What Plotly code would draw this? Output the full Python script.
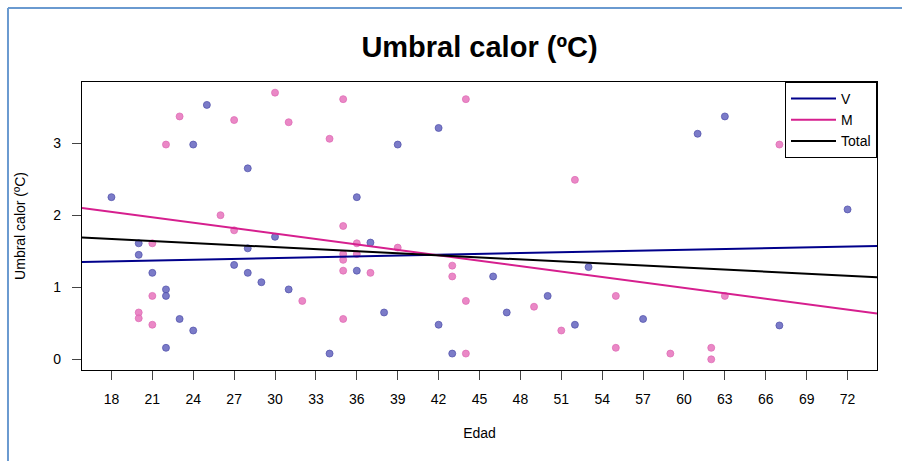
import plotly.graph_objects as go

# ---- data ----
v_edad = [18, 20, 20, 21, 22, 22, 22, 23, 24, 24, 25, 27, 28, 28, 28, 29, 30, 31,
          34, 36, 36, 37, 38, 39, 42, 42, 43, 46, 47, 50, 52, 53, 57, 61, 63, 67, 72]
v_umbral = [2.25, 1.61, 1.45, 1.20, 0.97, 0.88, 0.16, 0.56, 2.98, 0.40, 3.53, 1.31,
            2.65, 1.54, 1.20, 1.07, 1.70, 0.97, 0.08, 2.25, 1.23, 1.62, 0.65, 2.98,
            3.21, 0.48, 0.08, 1.15, 0.65, 0.88, 0.48, 1.28, 0.56, 3.13, 3.37, 0.47, 2.08]

m_edad = [20, 20, 21, 21, 21, 22, 23, 26, 27, 27, 30, 31, 32, 34, 35, 35, 35, 35, 35,
          35, 36, 36, 37, 39, 43, 43, 44, 44, 44, 49, 51, 52, 55, 55, 59, 62, 62, 63, 67]
m_umbral = [0.65, 0.57, 1.61, 0.88, 0.48, 2.98, 3.37, 2.00, 3.32, 1.79, 3.70, 3.29,
            0.81, 3.06, 3.61, 1.85, 1.46, 1.38, 1.23, 0.56, 1.61, 1.46, 1.20, 1.55,
            1.30, 1.15, 3.61, 0.81, 0.08, 0.73, 0.40, 2.49, 0.88, 0.16, 0.08, 0.16,
            0.00, 0.88, 2.98]

# regression lines (values at the left / right edges of the plot region)
line_edad = [15.84, 74.16]
v_line = [1.351, 1.574]
m_line = [2.10, 0.635]
total_line = [1.69, 1.139]

x_ticks = list(range(18, 73, 3))
y_ticks = [0, 1, 2, 3]

FONT = "Liberation Sans, Arial, sans-serif"

fig = go.Figure()

fig.add_trace(go.Scatter(x=v_edad, y=v_umbral, mode="markers", showlegend=False,
                         marker=dict(size=7, color="rgba(100,100,190,0.85)",
                                     line=dict(width=0.8, color="rgba(80,80,170,0.9)")),
                         hoverinfo="x+y"))
fig.add_trace(go.Scatter(x=m_edad, y=m_umbral, mode="markers", showlegend=False,
                         marker=dict(size=7, color="rgba(230,115,188,0.85)",
                                     line=dict(width=0.8, color="rgba(222,105,180,0.9)")),
                         hoverinfo="x+y"))

fig.add_trace(go.Scatter(x=line_edad, y=v_line, mode="lines", name="V",
                         line=dict(color="#00008B", width=2)))
fig.add_trace(go.Scatter(x=line_edad, y=m_line, mode="lines", name="M",
                         line=dict(color="#D61F8E", width=2)))
fig.add_trace(go.Scatter(x=line_edad, y=total_line, mode="lines", name="Total",
                         line=dict(color="#000000", width=2)))

# outer frame of the screenshot (blue lines at top and left)
frame_col = "#6A9AD0"
fig.add_shape(type="line", xref="paper", yref="paper", x0=-0.0931, x1=1.05,
              y0=1.2569, y1=1.2569, line=dict(color=frame_col, width=2))
fig.add_shape(type="line", xref="paper", yref="paper", x0=-0.0931, x1=-0.0931,
              y0=1.2569, y1=-0.35, line=dict(color=frame_col, width=2))

fig.update_layout(
    width=902, height=461,
    margin=dict(l=82, r=25, t=82, b=91),
    paper_bgcolor="white", plot_bgcolor="white",
    font=dict(family=FONT, size=14, color="#000000"),
    title=dict(text="<b>Umbral calor (ºC)</b>", x=0.5, xref="paper", xanchor="center",
               y=0.898, yref="container", yanchor="middle",
               font=dict(size=29, family=FONT, color="#000000")),
    xaxis=dict(range=[15.84, 74.16], tickvals=x_ticks, ticktext=[str(t) for t in x_ticks],
               ticks="outside", ticklen=9, tickcolor="#444", showgrid=False, zeroline=False,
               showline=True, linecolor="#000", linewidth=1.2, mirror=True,
               ticklabelstandoff=7, tickfont=dict(size=14),
               title=dict(text="Edad", font=dict(size=14), standoff=22)),
    yaxis=dict(range=[-0.148, 3.848], tickvals=y_ticks, ticktext=[str(t) for t in y_ticks],
               ticks="outside", ticklen=9, tickcolor="#444", showgrid=False, zeroline=False,
               showline=True, linecolor="#000", linewidth=1.2, mirror=True,
               ticklabelstandoff=8, tickfont=dict(size=14),
               title=dict(text="Umbral calor (ºC)", font=dict(size=14), standoff=24)),
    legend=dict(x=1, y=1, xanchor="right", yanchor="top", bgcolor="white",
                bordercolor="#000", borderwidth=1, font=dict(size=14),
                itemwidth=45, tracegroupgap=0),
    showlegend=True,
)

fig.write_html("out.html")
